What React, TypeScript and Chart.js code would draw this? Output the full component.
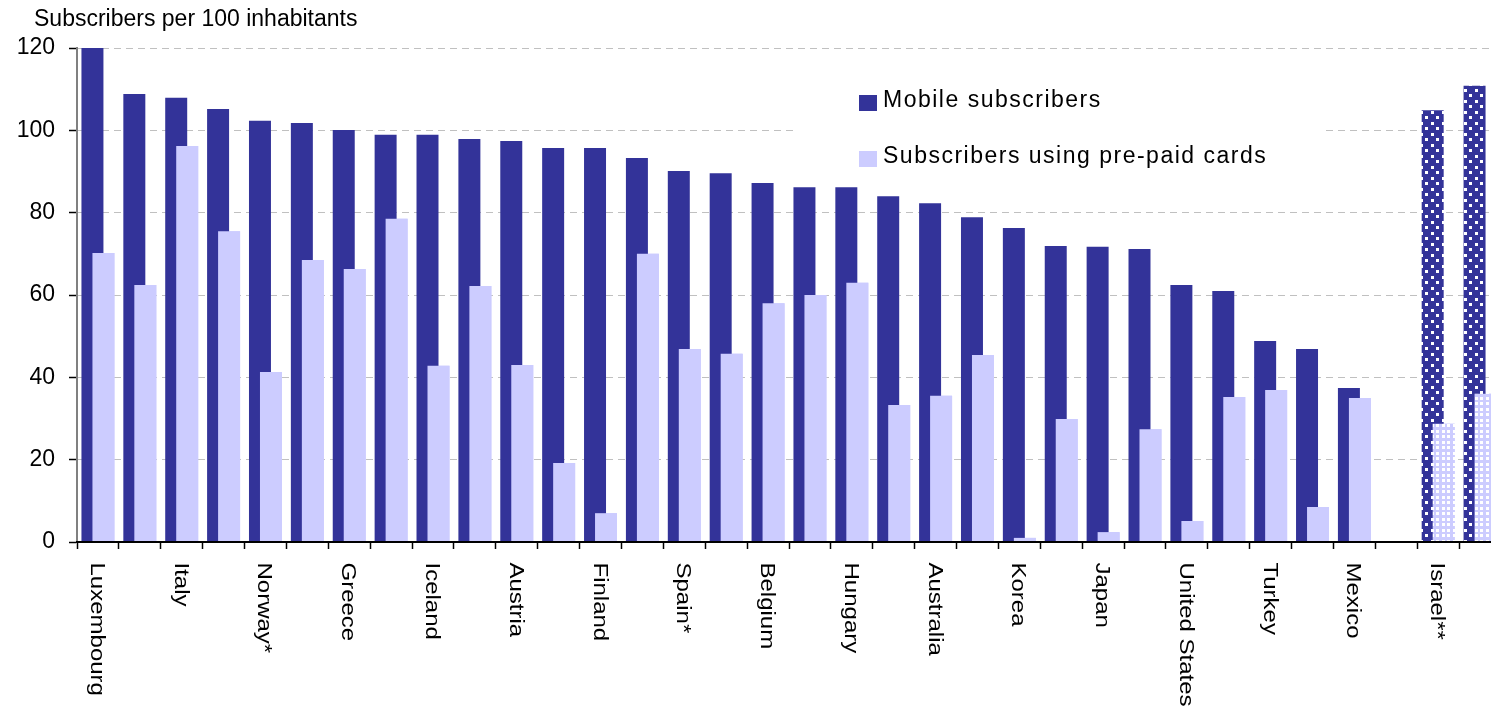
import React, { useEffect, useRef } from 'react';
import { Chart, registerables } from 'chart.js';

Chart.register(...registerables);

// ---------- data ----------
const categories = [
  'Luxembourg', '', 'Italy', '', 'Norway*', '', 'Greece', '', 'Iceland', '',
  'Austria', '', 'Finland', '', 'Spain*', '', 'Belgium', '', 'Hungary', '',
  'Australia', '', 'Korea', '', 'Japan', '', 'United States', '', 'Turkey', '',
  'Mexico', '', 'Israel**', '',
];

const mobileSubscribers = [
  153, 108.8, 107.9, 105.2, 102.3, 101.8, 100.1, 98.9, 98.9, 97.9,
  97.4, 95.7, 95.7, 93.3, 90.1, 89.6, 87.2, 86.2, 86.2, 84.0,
  82.3, 78.9, 76.3, 71.9, 71.7, 71.2, 62.4, 61.0, 48.8, 46.9,
  37.4, null, 104.9, 110.8,
];

const prepaidSubscribers = [
  70.2, 62.4, 96.2, 75.5, 41.3, 68.5, 66.3, 78.5, 42.8, 62.2,
  43.0, 19.2, 7.0, 70.0, 46.9, 45.7, 58.0, 60.0, 63.0, 33.3,
  35.5, 45.4, 1.0, 29.9, 2.4, 27.4, 5.1, 35.2, 36.9, 8.5,
  35.0, null, 28.7, 36.0,
];

const seriesNames = ['Mobile subscribers', 'Subscribers using pre-paid cards'];
const patternedFrom = 32; // Israel** and the following bar use dotted fill
const yTitle = 'Subscribers per 100 inhabitants';
const yMin = 0;
const yMax = 120;
const yStep = 20;

// ---------- styles ----------
const FONT = '"Liberation Sans", Arial, sans-serif';
const DARK = '#333399';
const LIGHT = '#ccccff';

function makePattern(bg: string, squares: number[][], size: number, tile: number) {
  const c = document.createElement('canvas');
  c.width = tile;
  c.height = tile;
  const g = c.getContext('2d')!;
  g.fillStyle = bg;
  g.fillRect(0, 0, tile, tile);
  g.fillStyle = '#ffffff';
  squares.forEach(([x, y]) => g.fillRect(x, y, size, size));
  return g.createPattern(c, 'repeat') as CanvasPattern;
}

export default function App() {
  const canvasRef = useRef<HTMLCanvasElement | null>(null);

  useEffect(() => {
    const canvas = canvasRef.current;
    if (!canvas) return;

    const darkPattern = makePattern(DARK, [[1, 1], [6, 6]], 3, 11);
    const lightPattern = makePattern(LIGHT, [[1, 1], [6, 1], [1, 6], [6, 6]], 3, 11);

    const customPlugin = {
      id: 'customDecor',
      beforeDatasetsDraw(chart: any) {
        const ctx = chart.ctx;
        ctx.save();
        ctx.fillStyle = '#ffffff';
        ctx.fillRect(796, 62, 529, 120);
        ctx.restore();
      },
      afterDatasetsDraw(chart: any) {
        // draw the pre-paid series again so that it lies in front of the mobile bars
        const ctx = chart.ctx;
        const a = chart.chartArea;
        ctx.save();
        ctx.beginPath();
        ctx.rect(a.left, a.top, a.right - a.left, a.bottom - a.top);
        ctx.clip();
        chart.getDatasetMeta(1).controller.draw();
        ctx.restore();
      },
      afterDraw(chart: any) {
        const ctx = chart.ctx;
        const xs = chart.scales.x;

        // axis title, horizontal, top left
        ctx.save();
        ctx.fillStyle = '#000';
        ctx.font = `23px ${FONT}`;
        ctx.textAlign = 'left';
        ctx.textBaseline = 'middle';
        ctx.fillText(yTitle, 34, 19.5);
        ctx.restore();

        // category labels, rotated clockwise, every other one
        ctx.save();
        ctx.fillStyle = '#000';
        ctx.font = `20px ${FONT}`;
        ctx.textAlign = 'left';
        ctx.textBaseline = 'middle';
        categories.forEach((label, i) => {
          if (i % 2 !== 0 || !label) return;
          const x = xs.getPixelForValue(i) - 1.5;
          ctx.save();
          ctx.translate(x, 562.5);
          ctx.rotate(Math.PI / 2);
          ctx.scale(1.2, 1);
          ctx.fillText(label, 0, 0);
          ctx.restore();
        });
        ctx.restore();

        // legend
        ctx.save();
        const items = [
          { label: seriesNames[0], color: DARK, boxY: 95, textY: 101 },
          { label: seriesNames[1], color: LIGHT, boxY: 151, textY: 156.5 },
        ];
        ctx.font = `23px ${FONT}`;
        (ctx as any).letterSpacing = '1.5px';
        ctx.textAlign = 'left';
        ctx.textBaseline = 'middle';
        items.forEach((it) => {
          ctx.fillStyle = it.color;
          ctx.fillRect(859, it.boxY, 18, 16);
          ctx.fillStyle = '#000';
          ctx.fillText(it.label, 883, it.textY);
        });
        ctx.restore();
      },
    };

    const chart = new Chart(canvas, {
      type: 'bar',
      data: {
        labels: categories,
        datasets: [
          {
            label: seriesNames[0],
            data: mobileSubscribers,
            backgroundColor: (c: any) => (c.dataIndex >= patternedFrom ? darkPattern : DARK),
            borderWidth: 0,
            categoryPercentage: 0.525,
            barPercentage: 2.0,
          },
          {
            label: seriesNames[1],
            data: prepaidSubscribers,
            backgroundColor: (c: any) => (c.dataIndex >= patternedFrom ? lightPattern : LIGHT),
            borderWidth: 0,
            categoryPercentage: 0.525,
            barPercentage: 2.0,
          },
        ],
      },
      options: {
        animation: false,
        responsive: false,
        devicePixelRatio: 1,
        layout: { padding: { left: 0, right: 19, top: 48, bottom: 0 } },
        plugins: {
          legend: { display: false },
          tooltip: { enabled: false },
          title: { display: false },
        },
        scales: {
          x: {
            type: 'category',
            offset: true,
            grid: {
              display: true,
              offset: true,
              drawOnChartArea: false,
              drawTicks: true,
              tickLength: 7,
              tickColor: '#000',
              tickWidth: 1.5,
            },
            border: { display: true, color: '#000', width: 2, z: 1 },
            ticks: { display: false },
            afterFit: (s: any) => {
              s.height = 167;
            },
          },
          y: {
            min: yMin,
            max: yMax,
            ticks: {
              stepSize: yStep,
              color: '#000',
              font: { family: FONT, size: 23 },
              padding: 14,
            },
            grid: {
              color: (c: any) => (c.tick && c.tick.value === 0 ? 'rgba(0,0,0,0)' : '#c0c0c0'),
              lineWidth: 1,
              tickLength: 8,
              tickColor: '#000',
              tickWidth: 1.5,
            },
            border: { display: true, color: '#808080', width: 2, dash: [7, 5] },
            afterFit: (s: any) => {
              s.width = 77;
            },
          },
        },
      } as any,
      plugins: [customPlugin as any],
    });

    return () => {
      chart.destroy();
    };
  }, []);

  return (
    <div
      style={{
        position: 'fixed',
        left: 0,
        top: 0,
        width: 1491,
        height: 709,
        overflow: 'hidden',
        background: '#fff',
      }}
    >
      <canvas ref={canvasRef} width={1520} height={709} style={{ display: 'block' }} />
    </div>
  );
}
